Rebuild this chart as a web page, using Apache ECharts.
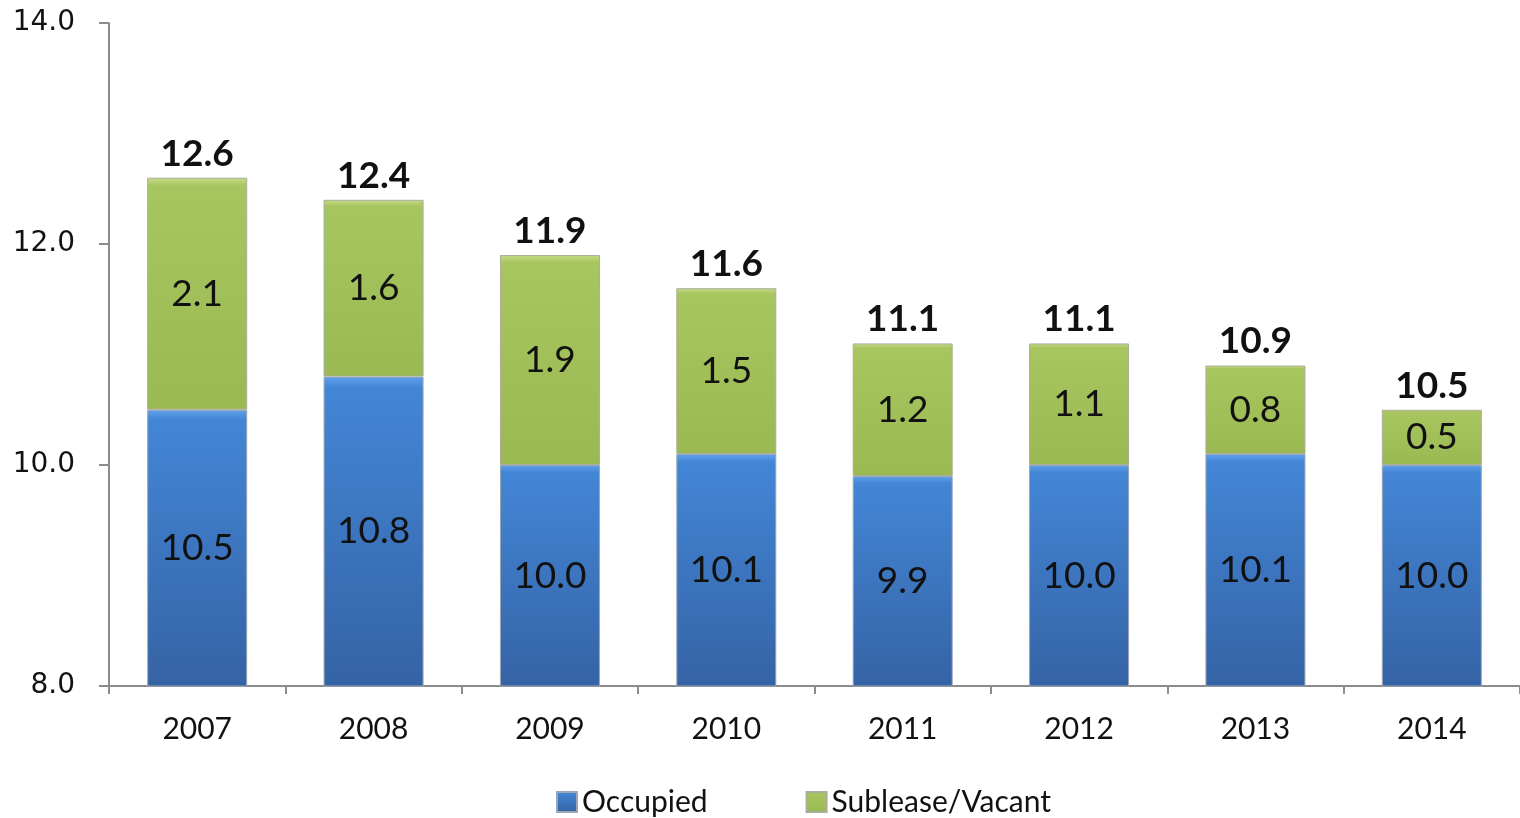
<!DOCTYPE html>
<html>
<head>
<meta charset="utf-8">
<script src="https://cdn.jsdelivr.net/npm/echarts@6/dist/echarts.min.js"></script>
<style>
  html, body { margin: 0; padding: 0; background: #fff; }
  #chart { width: 1520px; height: 818px; }
</style>
</head>
<body>
<div id="chart"></div>
<script>
// 数据
const years = ['2007', '2008', '2009', '2010', '2011', '2012', '2013', '2014']
const occupied = [10.5, 10.8, 10.0, 10.1, 9.9, 10.0, 10.1, 10.0]
const subleaseVacant = [2.1, 1.6, 1.9, 1.5, 1.2, 1.1, 0.8, 0.5]
const totals = [12.6, 12.4, 11.9, 11.6, 11.1, 11.1, 10.9, 10.5]
const yTicks = [8, 10, 12, 14]

const blueFill = new echarts.graphic.LinearGradient(0, 0, 0, 1, [
  { offset: 0, color: '#62a2ec' },
  { offset: 0.035, color: '#4386d6' },
  { offset: 1, color: '#3563a5' }
])
const greenFill = new echarts.graphic.LinearGradient(0, 0, 0, 1, [
  { offset: 0, color: '#c4dc84' },
  { offset: 0.035, color: '#a8c660' },
  { offset: 1, color: '#9bb953' }
])

const chart = echarts.init(document.getElementById('chart'))

const option = {
  animation: false,
  grid: { left: 109, right: 0, top: 23, bottom: 132 },
  legend: {
    data: ['Occupied', 'Sublease/Vacant'],
    top: 782,
    left: 551,
    itemWidth: 20,
    itemHeight: 20,
    itemGap: 98,
    icon: 'rect',
    textStyle: { fontFamily: 'Lato', fontSize: 30, color: '#111' }
  },
  xAxis: {
    type: 'category',
    data: years,
    axisLine: { lineStyle: { color: '#8c8c8c', width: 2 } },
    axisTick: { show: true, length: 8, lineStyle: { color: '#8c8c8c', width: 2 } },
    axisLabel: { fontFamily: 'Lato', fontSize: 30, color: '#111', margin: 28 }
  },
  yAxis: {
    type: 'value',
    min: yTicks[0],
    max: yTicks[yTicks.length - 1],
    interval: 2,
    splitLine: { show: false },
    axisLine: { show: true, lineStyle: { color: '#8c8c8c', width: 2 } },
    axisTick: { show: true, length: 10, lineStyle: { color: '#8c8c8c', width: 2 } },
    axisLabel: {
      fontFamily: 'DejaVu Sans',
      fontSize: 28,
      color: '#111',
      margin: 34,
      formatter: v => v.toFixed(1)
    }
  },
  series: [
    {
      name: 'Occupied',
      type: 'bar',
      stack: 'total',
      barWidth: 100,
      data: occupied,
      itemStyle: { color: blueFill, borderColor: '#9aa6b4', borderWidth: 1 },
      label: {
        show: true,
        position: 'inside',
        fontFamily: 'Lato',
        fontSize: 37,
        color: '#111',
        formatter: p => p.value.toFixed(1)
      }
    },
    {
      name: 'Sublease/Vacant',
      type: 'bar',
      stack: 'total',
      barWidth: 100,
      data: subleaseVacant,
      itemStyle: { color: greenFill, borderColor: '#a9ad9c', borderWidth: 1 },
      label: {
        show: true,
        position: 'inside',
        fontFamily: 'Lato',
        fontSize: 37,
        color: '#111',
        formatter: p => p.value.toFixed(1)
      }
    },
    {
      // 总计标签（透明折线）
      name: 'Total',
      type: 'line',
      data: totals,
      symbol: 'circle',
      symbolSize: 1,
      showSymbol: true,
      itemStyle: { color: 'rgba(0,0,0,0)' },
      lineStyle: { width: 0, opacity: 0 },
      silent: true,
      z: 10,
      label: {
        show: true,
        position: 'top',
        distance: 5,
        fontFamily: 'Lato',
        fontWeight: 'bold',
        fontSize: 37,
        color: '#111',
        formatter: p => p.value.toFixed(1)
      }
    }
  ]
}

chart.setOption(option)
</script>
</body>
</html>
